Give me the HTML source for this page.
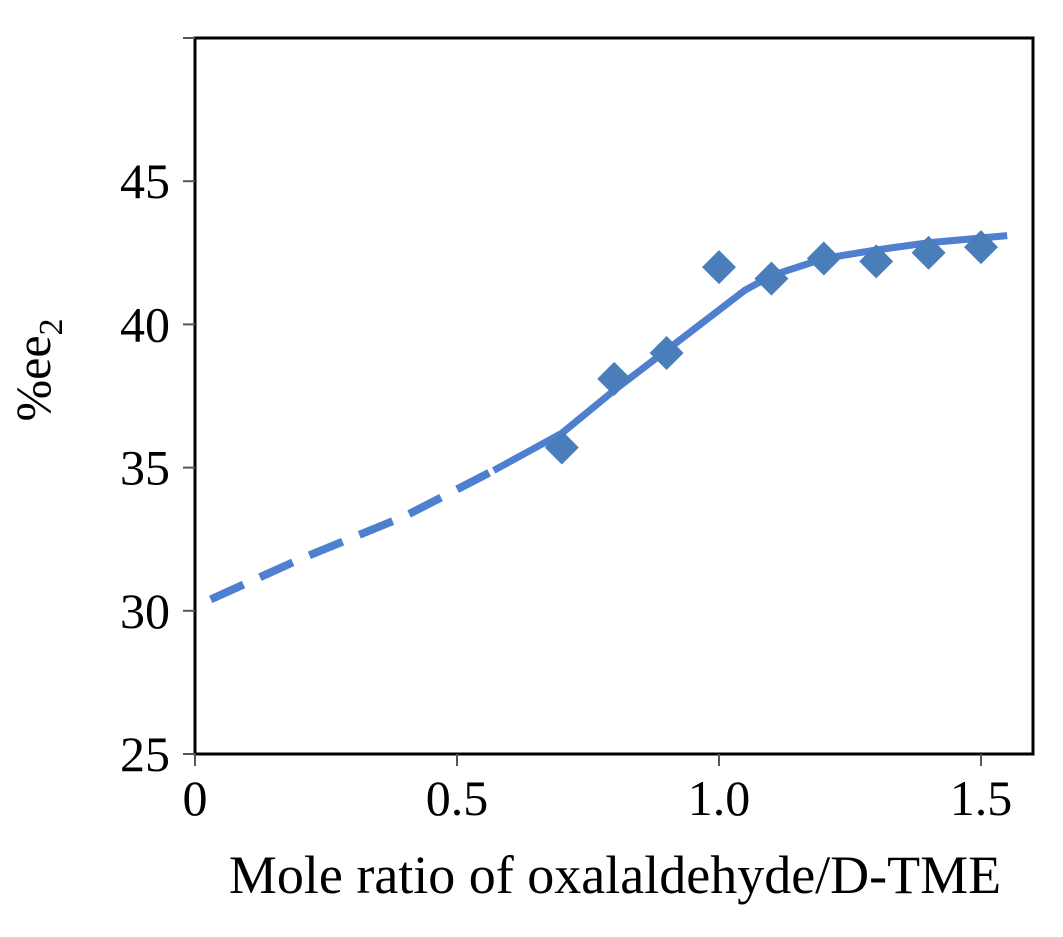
<!DOCTYPE html>
<html><head><meta charset="utf-8"><style>
body{margin:0;background:#fff;}
svg text{font-family:"Liberation Serif",serif;fill:#000;}
</style></head><body>
<svg id="chart" width="1063" height="932" viewBox="0 0 1063 932">
<rect x="195" y="38" width="838" height="716" fill="none" stroke="#000" stroke-width="3"/>
<g id="yticks"></g>
<g id="xticks"></g>
<g id="fit"></g>
<g id="pts"></g>
<text x="615" y="893" font-size="54" text-anchor="middle">Mole ratio of oxalaldehyde/D-TME</text>
<text transform="translate(50,370) rotate(-90)" font-size="50" text-anchor="middle">%ee<tspan font-size="34" dy="12">2</tspan></text>
</svg>
<script>
const xTicks=[0,0.5,1.0,1.5];
const xTickLabels=["0","0.5","1.0","1.5"];
const yTicks=[25,30,35,40,45,50];
const yTickLabels=["25","30","35","40","45",""];
const ptX=[0.7,0.8,0.9,1.0,1.1,1.2,1.3,1.4,1.5];
const ptY=[35.7,38.1,39.0,42.0,41.6,42.3,42.2,42.5,42.7];
const dashX=[0.03,0.2,0.4,0.57];
const dashY=[30.4,31.8,33.3,34.9];
const solidX=[0.57,0.64,0.7,0.8,0.9,1.0,1.05,1.1,1.2,1.3,1.4,1.55];
const solidY=[34.9,35.6,36.2,37.7,39.1,40.5,41.2,41.7,42.3,42.6,42.85,43.1];
const NS="http://www.w3.org/2000/svg";
const sx=v=>195+v*524;
const sy=v=>754-(v-25)*28.64;
function mk(t,a,p){const e=document.createElementNS(NS,t);for(const k in a)e.setAttribute(k,a[k]);p.appendChild(e);return e;}
const yg=document.getElementById('yticks'),xg=document.getElementById('xticks');
yTicks.forEach((v,i)=>{
 const l=mk('line',{x1:183,x2:195,y1:sy(v),y2:sy(v),stroke:'#555','stroke-width':2},yg);
 
 
 if(yTickLabels[i]){const t=mk('text',{x:170,y:sy(v)+17,'font-size':50,'text-anchor':'end'},yg);t.textContent=yTickLabels[i];
 
 }
});
xTicks.forEach((v,i)=>{
 const l=mk('line',{x1:sx(v),x2:sx(v),y1:754,y2:766,stroke:'#555','stroke-width':2},xg);
 
 
 const t=mk('text',{x:sx(v),y:815,'font-size':50,'text-anchor':'middle'},xg);t.textContent=xTickLabels[i];
 
 
});
const fg=document.getElementById('fit');
function path(xs,ys){return xs.map((x,i)=>(i?'L':'M')+sx(x)+','+sy(ys[i])).join(' ');}
const d=mk('path',{d:path(dashX,dashY),fill:'none',stroke:'#4f7fcf','stroke-width':8,'stroke-dasharray':'36,18'},fg);


const s=mk('path',{d:path(solidX,solidY),fill:'none',stroke:'#4f7fcf','stroke-width':7,'stroke-linejoin':'round'},fg);


const pg=document.getElementById('pts');
ptX.forEach((x,i)=>{
 const cx=sx(x),cy=sy(ptY[i]),r=17;
 const p=mk('polygon',{points:`${cx},${cy-r} ${cx+r},${cy} ${cx},${cy+r} ${cx-r},${cy}`,fill:'#4a7ebb'},pg);
 
 
});
</script>
</body></html>
